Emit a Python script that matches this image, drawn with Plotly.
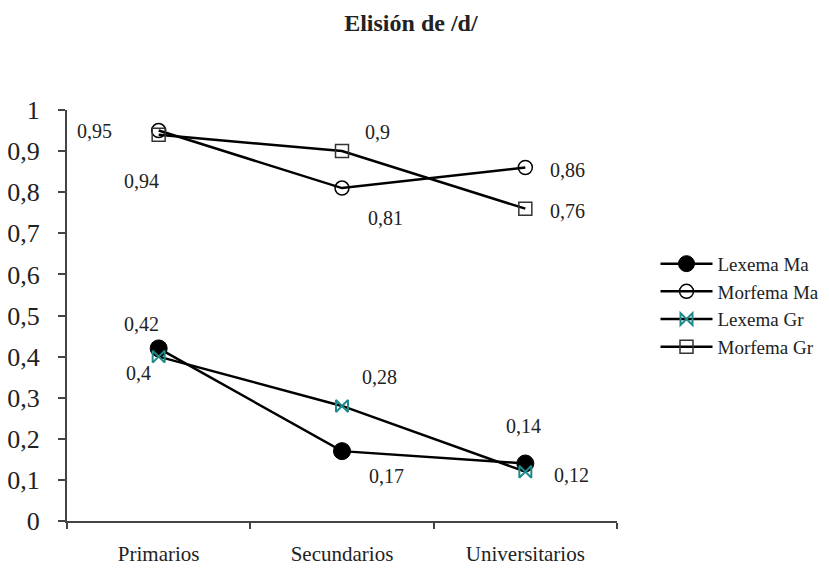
import plotly.graph_objects as go

categories = ["Primarios", "Secundarios", "Universitarios"]
lexema_ma = [0.42, 0.17, 0.14]
morfema_ma = [0.95, 0.81, 0.86]
lexema_gr = [0.40, 0.28, 0.12]
morfema_gr = [0.94, 0.90, 0.76]
series_names = ["Lexema Ma", "Morfema Ma", "Lexema Gr", "Morfema Gr"]

FONT = "Liberation Serif, Times New Roman, serif"
TXT = "#222222"

fig = go.Figure()
styles = [
    dict(symbol="circle", size=17, color="black", line=dict(color="black", width=1)),
    dict(symbol="circle-open", size=14, color="black", line=dict(color="black", width=1.5)),
    dict(symbol="bowtie-open", size=12, color="#1f8a8a", line=dict(color="#1f8a8a", width=2)),
    dict(symbol="square-open", size=13, color="#333333", line=dict(color="#333333", width=1.5)),
]
all_series = [lexema_ma, morfema_ma, lexema_gr, morfema_gr]
for name, vals, st in zip(series_names, all_series, styles):
    fig.add_trace(go.Scatter(
        x=categories, y=vals, name=name, mode="lines+markers",
        line=dict(color="black", width=2.5),
        marker=st,
    ))

# label offsets (pixels) per series per point
offsets = [
    [(-17, 24), (44, -25), (-2, 37)],    # Lexema Ma
    [(-64, 0), (43, -30), (42, -2)],     # Morfema Ma
    [(-20, -16), (37, 29), (46, -3)],    # Lexema Gr
    [(-17, -46), (35, 19), (42, -2)],    # Morfema Gr
]
for vals, offs in zip(all_series, offsets):
    for c, v, (dx, dy) in zip(categories, vals, offs):
        fig.add_annotation(
            x=c, y=v, text=f"{v:g}".replace(".", ","), showarrow=False,
            xshift=dx, yshift=dy,
            font=dict(family=FONT, size=20, color=TXT),
        )

fig.update_layout(
    width=829, height=569,
    margin=dict(l=59, r=220, t=102, b=56, autoexpand=False),
    paper_bgcolor="white", plot_bgcolor="white",
    separators=", ",
    title=dict(text="<b>Elisión de /d/</b>", x=0.486, xanchor="center", y=0.975, yanchor="middle",
               font=dict(family=FONT, size=24, color=TXT)),
    font=dict(family=FONT, color=TXT),
    showlegend=True,
    legend=dict(x=1.07, xanchor="left", y=0.672, yanchor="top",
                font=dict(family=FONT, size=19, color=TXT),
                tracegroupgap=0, itemwidth=52,
                bgcolor="rgba(0,0,0,0)"),
    xaxis=dict(
        type="category", range=[-0.5, 2.5], tickson="boundaries",
        showline=True, linecolor="#444444", linewidth=2,
        ticks="outside", ticklen=6, tickcolor="#444444", tickwidth=1.5,
        showgrid=False, zeroline=False, automargin=False,
        tickfont=dict(family=FONT, size=21, color=TXT),
        ticklabelstandoff=13,
    ),
    yaxis=dict(
        range=[0, 1.0], dtick=0.1, tick0=0,
        showline=True, linecolor="#444444", linewidth=2,
        ticks="outside", ticklen=7, tickcolor="#444444", tickwidth=1.5,
        showgrid=False, zeroline=False, automargin=False,
        tickfont=dict(family=FONT, size=26, color=TXT),
        ticklabelstandoff=13,
    ),
)

fig.write_html("out.html")
